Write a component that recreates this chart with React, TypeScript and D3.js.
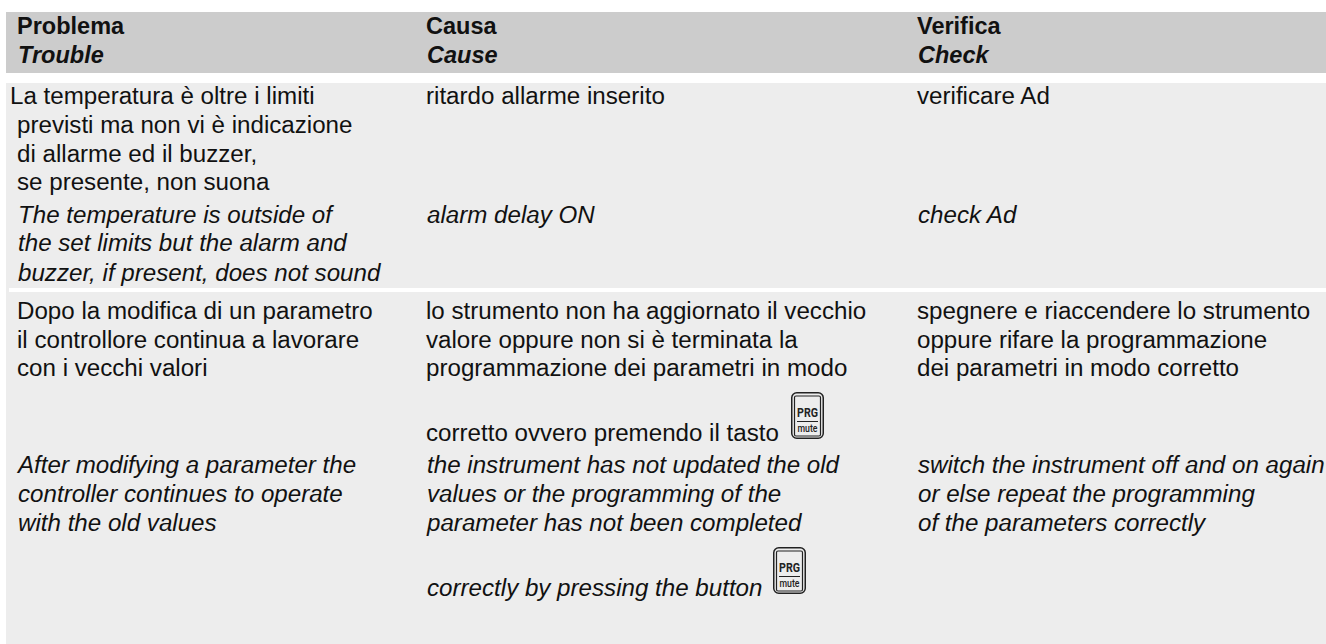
import React from "react";
import * as d3 from "d3";

const W = 1326, H = 644;
const columnNames = ["problema", "causa", "verifica"];
const columnX = [17, 426, 917];
const italicShift = 1;
const header = [["Problema", "Causa", "Verifica"], ["Trouble", "Cause", "Check"]];
const headerY = [34, 63];

type Line = { col: number; x?: number; y: number; t: string; it?: boolean };
const rows: Line[] = [
  { col: 0, x: 10, y: 104, t: "La temperatura è oltre i limiti" },
  { col: 0, y: 133, t: "previsti ma non vi è indicazione" },
  { col: 0, y: 162, t: "di allarme ed il buzzer," },
  { col: 0, y: 190, t: "se presente, non suona" },
  { col: 0, y: 223, t: "The temperature is outside of", it: true },
  { col: 0, y: 251, t: "the set limits but the alarm and", it: true },
  { col: 0, y: 281, t: "buzzer, if present, does not sound", it: true },
  { col: 1, y: 104, t: "ritardo allarme inserito" },
  { col: 1, y: 223, t: "alarm delay ON", it: true },
  { col: 2, y: 104, t: "verificare Ad" },
  { col: 2, y: 223, t: "check Ad", it: true },
  { col: 0, y: 319, t: "Dopo la modifica di un parametro" },
  { col: 0, y: 348, t: "il controllore continua a lavorare" },
  { col: 0, y: 376, t: "con i vecchi valori" },
  { col: 0, y: 473, t: "After modifying a parameter the", it: true },
  { col: 0, y: 502, t: "controller continues to operate", it: true },
  { col: 0, y: 531, t: "with the old values", it: true },
  { col: 1, y: 319, t: "lo strumento non ha aggiornato il vecchio" },
  { col: 1, y: 348, t: "valore oppure non si è terminata la" },
  { col: 1, y: 376, t: "programmazione dei parametri in modo" },
  { col: 1, y: 441, t: "corretto ovvero premendo il tasto" },
  { col: 1, y: 473, t: "the instrument has not updated the old", it: true },
  { col: 1, y: 502, t: "values or the programming of the", it: true },
  { col: 1, y: 531, t: "parameter has not been completed", it: true },
  { col: 1, y: 596, t: "correctly by pressing the button", it: true },
  { col: 2, y: 319, t: "spegnere e riaccendere lo strumento" },
  { col: 2, y: 348, t: "oppure rifare la programmazione" },
  { col: 2, y: 376, t: "dei parametri in modo corretto" },
  { col: 2, y: 473, t: "switch the instrument off and on again", it: true },
  { col: 2, y: 502, t: "or else repeat the programming", it: true },
  { col: 2, y: 531, t: "of the parameters correctly", it: true },
];
const keys = [{ x: 791, y: 392 }, { x: 773, y: 547 }];
const FONT = "'Liberation Sans', Arial, sans-serif";
const FS = 24.15;
const INK = "#111";

export default function App() {
  const x = d3.scaleOrdinal<string, number>().domain(columnNames).range(columnX);
  return (
    <svg width={W} height={H} style={{ position: "fixed", left: 0, top: 0, background: "#fff" }} fontFamily={FONT}>
      <rect x={6} y={12} width={W - 6} height={61} fill="#cccccc" />
      <rect x={6} y={83} width={W - 6} height={H - 83} fill="#ededed" />
      <rect x={9} y={288} width={W - 9} height={4} fill="#ffffff" />
      {header.map((r, i) =>
        r.map((t, c) => (
          <text key={t} x={(x(columnNames[c]) as number) + (i ? italicShift : 0)} y={headerY[i]} fontSize={23.5} fontWeight="bold" fontStyle={i ? "italic" : "normal"} fill={INK}>{t}</text>
        ))
      )}
      {rows.map((l, i) => (
        <text key={i} x={l.x ?? (x(columnNames[l.col]) as number) + (l.it ? italicShift : 0)} y={l.y} fontSize={FS} fontStyle={l.it ? "italic" : "normal"} fill={INK}>{l.t}</text>
      ))}
      {keys.map((k, i) => (
        <g key={i} transform={`translate(${k.x},${k.y})`}>
          <rect x={0.75} y={0.75} width={31.5} height={45.5} rx={5} fill="none" stroke="#222" strokeWidth={1.5} />
          <rect x={3.5} y={4} width={26} height={40} rx={1.5} fill="none" stroke="#222" strokeWidth={1.2} />
          <text x={16.5} y={25} textAnchor="middle" fontSize={12} fontWeight="bold" fill="#222" fontFamily="'Roboto', sans-serif" textLength={21} lengthAdjust="spacingAndGlyphs">PRG</text>
          <line x1={6} x2={27} y1={29.5} y2={29.5} stroke="#222" strokeWidth={1} />
          <text x={16.5} y={40} textAnchor="middle" fontSize={11} fontWeight="500" fill="#222" fontFamily="'Roboto', sans-serif" textLength={20} lengthAdjust="spacingAndGlyphs">mute</text>
        </g>
      ))}
    </svg>
  );
}
